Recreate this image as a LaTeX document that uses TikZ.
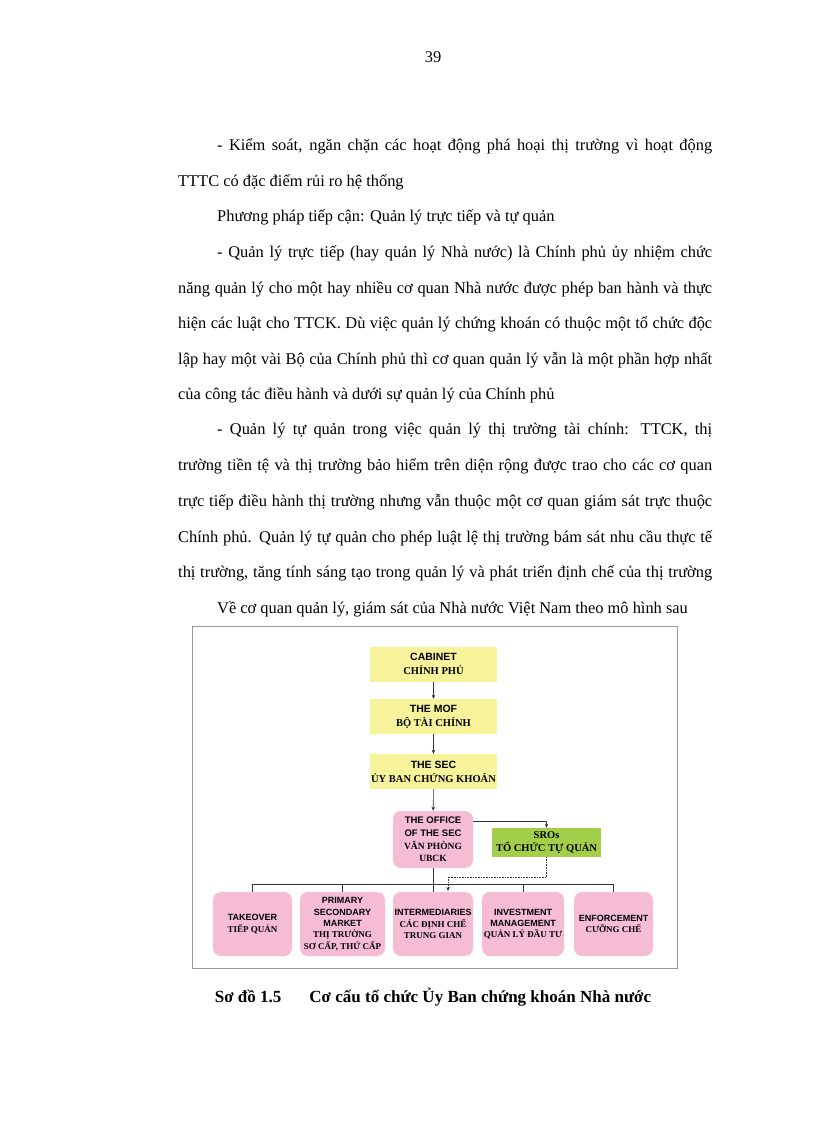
\documentclass[tikz,border=0pt]{standalone}
\usepackage{fontspec}
\setmainfont{Liberation Serif}
\setsansfont{Liberation Sans}
\usetikzlibrary{arrows.meta}
\definecolor{yel}{HTML}{F6F39B}
\definecolor{pnk}{HTML}{F5BCD3}
\definecolor{grn}{HTML}{A2CE4A}
\tikzset{
 yb/.style={fill=yel,minimum width=127pt,minimum height=35pt,inner sep=1pt,align=center,font=\fontsize{10.5}{14}\selectfont},
 pb/.style={fill=pnk,rounded corners=8pt,minimum height=64pt,inner sep=1pt,align=center,font=\fontsize{9}{11.3}\selectfont},
 ln/.style={anchor=west,inner sep=0pt,font=\fontsize{16.4}{19}\selectfont},
 arr/.style={-{Stealth[length=4pt,width=3.5pt]},line width=0.6pt,draw=black!80},
 con/.style={line width=0.6pt,draw=black!80}
}
\newcommand{\en}[1]{\textsf{\textbf{#1}}}
\newcommand{\vn}[1]{\textbf{#1}}
\newcommand{\jl}[1]{\makebox[534pt][s]{#1}}
\begin{document}
\begin{tikzpicture}[x=1pt,y=-1pt]
\useasboundingbox (0,0) rectangle (816,1123);
\node[font=\fontsize{16.4}{19}\selectfont] (pg) at (433,57) {39};
\node[ln] (l1) at (178,146) {\jl{\hspace{39pt}- Kiểm soát, ngăn chặn các hoạt động phá hoại thị trường vì hoạt động}};
\node[ln] (l2) at (178,182) {TTTC có đặc điểm rủi ro hệ thống};
\node[ln] (l3) at (217,217) {Phương pháp tiếp cận: Quản lý trực tiếp và tự quản};
\node[ln] (l4) at (178,253) {\jl{\hspace{39pt}- Quản lý trực tiếp (hay quản lý Nhà nước) là Chính phủ ủy nhiệm chức}};
\node[ln] (l5) at (178,289) {\jl{năng quản lý cho một hay nhiều cơ quan Nhà nước được phép ban hành và thực}};
\node[ln] (l6) at (178,324) {\jl{hiện các luật cho TTCK. Dù việc quản lý chứng khoán có thuộc một tổ chức độc}};
\node[ln] (l7) at (178,360) {\jl{lập hay một vài Bộ của Chính phủ thì cơ quan quản lý vẫn là một phần hợp nhất}};
\node[ln] (l8) at (178,395) {của công tác điều hành và dưới sự quản lý của Chính phủ};
\node[ln] (l9) at (178,431) {\jl{\hspace{39pt}- Quản lý tự quản trong việc quản lý thị trường tài chính: TTCK, thị}};
\node[ln] (l10) at (178,466) {\jl{trường tiền tệ và thị trường bảo hiểm trên diện rộng được trao cho các cơ quan}};
\node[ln] (l11) at (178,502) {\jl{trực tiếp điều hành thị trường nhưng vẫn thuộc một cơ quan giám sát trực thuộc}};
\node[ln] (l12) at (178,538) {\jl{Chính phủ. Quản lý tự quản cho phép luật lệ thị trường bám sát nhu cầu thực tế}};
\node[ln] (l13) at (178,573) {\jl{thị trường, tăng tính sáng tạo trong quản lý và phát triển định chế của thị trường}};
\node[ln] (l14) at (217,609) {Về cơ quan quản lý, giám sát của Nhà nước Việt Nam theo mô hình sau};
\draw[black!40,line width=0.6pt] (192,626) rectangle (677,968);
\node[yb] (cab) at (433.5,664) {\en{CABINET}\\\vn{CHÍNH PHỦ}};
\node[yb] (mof) at (433.5,716.5) {\en{THE MOF}\\\vn{BỘ TÀI CHÍNH}};
\node[yb] (sec) at (433.5,771.5) {\en{THE SEC}\\\vn{ỦY BAN CHỨNG KHOÁN}};
\node[pb,minimum width=80pt,minimum height=57pt,font=\fontsize{9.5}{12.8}\selectfont] (off) at (433,839.5) {\en{THE OFFICE}\\\en{OF THE SEC}\\\vn{VĂN PHÒNG}\\\vn{UBCK}};
\node[fill=grn,minimum width=109pt,minimum height=29pt,inner sep=1pt,align=center,font=\fontsize{10.5}{13.5}\selectfont] (sro) at (546.5,842.5) {\vn{SROs}\\\vn{TỔ CHỨC TỰ QUẢN}};
\node[pb,minimum width=79pt] (b1) at (252.5,924) {\en{TAKEOVER}\\\vn{TIẾP QUẢN}};
\node[pb,minimum width=85pt] (b2) at (342.5,924) {\en{PRIMARY}\\\en{SECONDARY}\\\en{MARKET}\\\vn{THỊ TRƯỜNG}\\\vn{SƠ CẤP, THỨ CẤP}};
\node[pb,minimum width=80pt] (b3) at (433,924) {\en{INTERMEDIARIES}\\\vn{CÁC ĐỊNH CHẾ}\\\vn{TRUNG GIAN}};
\node[pb,minimum width=82pt] (b4) at (523,924) {\en{INVESTMENT}\\\en{MANAGEMENT}\\\vn{QUẢN LÝ ĐẦU TƯ}};
\node[pb,minimum width=79pt] (b5) at (613.5,924) {\en{ENFORCEMENT}\\\vn{CƯỠNG CHẾ}};
\draw[arr] (cab) -- (mof);
\draw[arr] (mof) -- (sec);
\draw[arr] (sec) -- (off);
\draw[arr] (off.east |- 0,821) -| (sro.north);
\coordinate (bus) at (433,884);
\draw[con] (off) -- (b3);
\draw[con] (b1.north) |- (bus) -| (b5.north);
\draw[con] (b2.north) -- (b2.north |- bus);
\draw[con] (b4.north) -- (b4.north |- bus);
\draw[arr,densely dotted] (sro.south) |- (448,877) -- (448,891);
\node[font=\bfseries\fontsize{17}{20}\selectfont] (cap) at (433,997) {Sơ đồ 1.5\hspace{28pt}Cơ cấu tổ chức Ủy Ban chứng khoán Nhà nước};
\end{tikzpicture}
\end{document}
